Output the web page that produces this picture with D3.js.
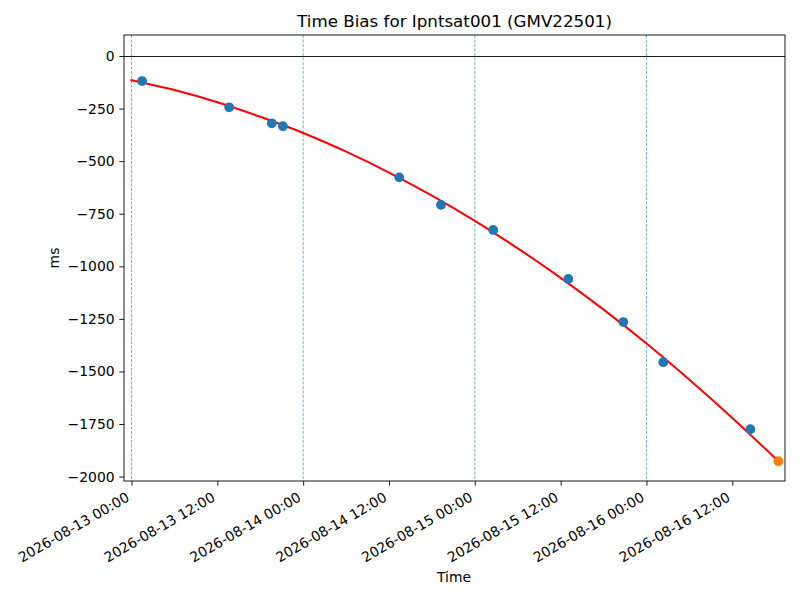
<!DOCTYPE html>
<html>
<head>
<meta charset="utf-8">
<script src="https://cdn.jsdelivr.net/npm/d3@7"></script>
<style>
  body { margin: 0; background: #fff; }
  text { font-family: "DejaVu Sans", sans-serif; fill: #000; }
</style>
</head>
<body>
<svg id="chart" width="800" height="600"></svg>
<script>
// measured time bias samples (UTC)
const obsTimes = ["2026-08-13T01:29", "2026-08-13T13:39", "2026-08-13T19:37", "2026-08-13T21:10",
  "2026-08-14T13:26", "2026-08-14T19:16", "2026-08-15T02:34", "2026-08-15T13:04",
  "2026-08-15T20:46", "2026-08-16T02:21", "2026-08-16T14:31"]
const obsValues = [-119, -244, -320, -334, -577, -708, -827, -1060, -1265, -1456, -1775]

// predicted point (orange)
const predTime = ["2026-08-16T18:26"]
const predValue = [-1927]

// fitted curve
const fitTimes = ["2026-08-12T23:51", "2026-08-13T06:00", "2026-08-13T12:00", "2026-08-13T18:00",
  "2026-08-14T00:00", "2026-08-14T06:00", "2026-08-14T12:00", "2026-08-14T18:00",
  "2026-08-15T00:00", "2026-08-15T06:00", "2026-08-15T12:00", "2026-08-15T18:00",
  "2026-08-16T00:00", "2026-08-16T06:00", "2026-08-16T12:00", "2026-08-16T18:26"]
const fitValues = [-114, -162, -220, -289, -366, -455, -554, -664, -784, -915, -1055, -1206,
  -1367, -1539, -1721, -1927]

const dayLines = ["2026-08-13T00:00", "2026-08-14T00:00", "2026-08-15T00:00", "2026-08-16T00:00"]
const yTicks = [0, -250, -500, -750, -1000, -1250, -1500, -1750, -2000]

const parse = d3.utcParse("%Y-%m-%dT%H:%M")

const margin = {top: 35, right: 15, bottom: 119, left: 124}
const width = 800 - margin.left - margin.right
const height = 600 - margin.top - margin.bottom

const svg = d3.select("#chart")
const g = svg.append("g").attr("transform", `translate(${margin.left},${margin.top})`)

const x = d3.scaleUtc()
	.domain([parse("2026-08-12T22:57"), parse("2026-08-16T19:22")])
	.range([0, width])
const y = d3.scaleLinear()
	.domain([-2021, 100])
	.range([height, 0])

// clip for the plot area
svg.append("defs").append("clipPath").attr("id", "clip")
	.append("rect").attr("width", width).attr("height", height)
const plot = g.append("g").attr("clip-path", "url(#clip)")

// day boundaries
plot.selectAll("line.day")
	.data(dayLines)
	.enter().append("line").attr("class", "day")
	.attr("x1", d => x(parse(d))).attr("x2", d => x(parse(d)))
	.attr("y1", 0).attr("y2", height)
	.attr("stroke", "#1f77b4").attr("stroke-width", 0.6)
	.attr("stroke-dasharray", "3,1.5")

// zero line
plot.append("line")
	.attr("x1", 0).attr("x2", width)
	.attr("y1", Math.round(y(0)) + 0.5).attr("y2", Math.round(y(0)) + 0.5)
	.attr("stroke", "#000").attr("stroke-width", 0.9)

// fit curve
const fitData = fitTimes.map((t, i) => ({t: parse(t), v: fitValues[i]}))
plot.append("path")
	.datum(fitData)
	.attr("fill", "none")
	.attr("stroke", "red")
	.attr("stroke-width", 2)
	.attr("d", d3.line().x(d => x(d.t)).y(d => y(d.v)).curve(d3.curveMonotoneX))

// observations
plot.selectAll("circle.obs")
	.data(obsTimes.map((t, i) => ({t: parse(t), v: obsValues[i]})))
	.enter().append("circle").attr("class", "obs")
	.attr("cx", d => x(d.t)).attr("cy", d => y(d.v))
	.attr("r", 4.9).attr("fill", "#1f77b4")

plot.selectAll("circle.pred")
	.data(predTime.map((t, i) => ({t: parse(t), v: predValue[i]})))
	.enter().append("circle").attr("class", "pred")
	.attr("cx", d => x(d.t)).attr("cy", d => y(d.v))
	.attr("r", 4.9).attr("fill", "#ff7f0e")

// axes
const xAxis = g.append("g")
	.attr("transform", `translate(0,${height})`)
	.call(d3.axisBottom(x).ticks(d3.utcHour.every(12)).tickFormat(d3.utcFormat("%Y-%m-%d %H:%M")).tickSize(4.7).tickSizeOuter(0))
xAxis.select(".domain").remove()
xAxis.selectAll(".tick line").attr("stroke-width", 0.9)
xAxis.selectAll(".tick text")
	.attr("font-size", 13.9)
	.attr("text-anchor", "end")
	.attr("y", 0).attr("dy", "-0.24em")
	.attr("transform", "translate(0,22) rotate(-30)")

const yAxis = g.append("g")
	.call(d3.axisLeft(y).tickValues(yTicks).tickFormat(d3.format("d")).tickSize(4.7).tickPadding(4.7))
yAxis.select(".domain").remove()
yAxis.selectAll(".tick line").attr("stroke-width", 0.9)
yAxis.selectAll(".tick text").attr("font-size", 13.9)

// frame
g.append("rect")
	.attr("width", width).attr("height", height)
	.attr("fill", "none").attr("stroke", "#000").attr("stroke-width", 0.9)

// labels
svg.append("text")
	.attr("x", margin.left + width / 2).attr("y", 27)
	.attr("text-anchor", "middle").attr("font-size", 16.7)
	.text("Time Bias for Ipntsat001 (GMV22501)")

svg.append("text")
	.attr("x", 454).attr("y", 582)
	.attr("text-anchor", "middle").attr("font-size", 13.9)
	.text("Time")

svg.append("text")
	.attr("transform", `translate(59,${margin.top + height / 2}) rotate(-90)`)
	.attr("text-anchor", "middle").attr("font-size", 13.9)
	.text("ms")
</script>
</body>
</html>
